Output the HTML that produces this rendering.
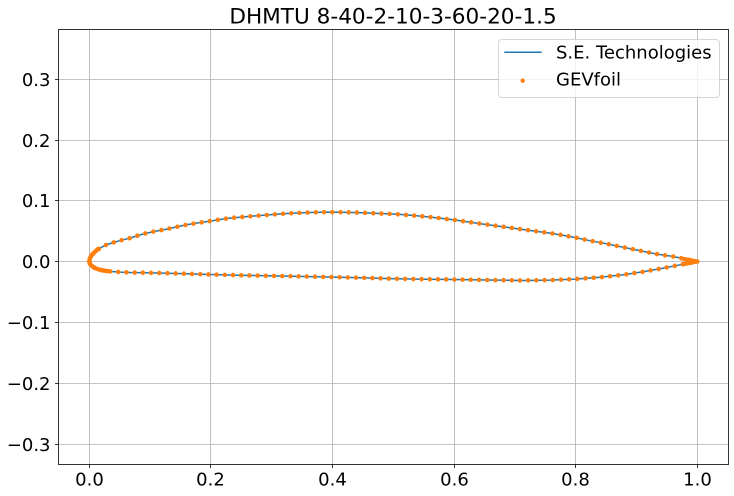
<!DOCTYPE html>
<html><head><meta charset="utf-8"><style>
html,body{margin:0;padding:0;background:#fff;}
svg{display:block;}
text{font-family:"DejaVu Sans","Liberation Sans",sans-serif;fill:#000;}
</style></head><body>
<svg width="734" height="496" viewBox="0 0 734 496" xmlns="http://www.w3.org/2000/svg">
<rect width="734" height="496" fill="#fff"/>
<text x="393" y="23.3" font-size="21.6" text-anchor="middle">DHMTU 8-40-2-10-3-60-20-1.5</text>
<g stroke="#b0b0b0" stroke-width="0.8" fill="none">
<line x1="89.5" y1="29.5" x2="89.5" y2="464.5"/>
<line x1="210.5" y1="29.5" x2="210.5" y2="464.5"/>
<line x1="332.5" y1="29.5" x2="332.5" y2="464.5"/>
<line x1="454.5" y1="29.5" x2="454.5" y2="464.5"/>
<line x1="575.5" y1="29.5" x2="575.5" y2="464.5"/>
<line x1="697.5" y1="29.5" x2="697.5" y2="464.5"/>
<line x1="58.5" y1="79.5" x2="728.5" y2="79.5"/>
<line x1="58.5" y1="140.5" x2="728.5" y2="140.5"/>
<line x1="58.5" y1="200.5" x2="728.5" y2="200.5"/>
<line x1="58.5" y1="261.5" x2="728.5" y2="261.5"/>
<line x1="58.5" y1="322.5" x2="728.5" y2="322.5"/>
<line x1="58.5" y1="383.5" x2="728.5" y2="383.5"/>
<line x1="58.5" y1="444.5" x2="728.5" y2="444.5"/>
</g>
<!-- airfoil line -->
<path fill="none" stroke="#1f77b4" stroke-width="1.5" stroke-linejoin="round" d="M697.3,261.5 L685,259 673.3,256.5 658,254.3 643.3,251.4 625,247.6 606.7,243.8 590,240.7 575,237.5 562,235.1 550,233.1 535,231.1 520,229.1 502,226.6 483.3,224.1 468,221.9 453.3,219.8 435,217.6 416.7,215.8 398,214.3 380,213.5 366,212.9 353.3,212.5 340,212.2 326.7,212.1 310,212.5 293.3,213.1 276,214.3 260,215.5 245,216.7 230,218.1 220,219.5 210,221.1 198,222.9 186.7,224.8 176,227 166.7,229.1 156,231.1 146.7,233.1 138,235.5 130,238.1 121,240.3 113.3,242.5 106,245 100,248.1 95.4,251.4 92.3,254.4 90.8,256.5 89.6,259.3 89.4,261.5 89.7,263.6 90.8,264.9 92.3,266.3 95.4,268.3 100,269.8 105,270.8 110,271.4 120,272.1 130,272.5 147,272.8 163.3,273.1 186,273.8 210,274.5 238,275.2 266.7,275.8 300,276.4 333.3,277.1 365,277.9 396.7,278.8 425,279.2 453.3,279.5 488,280 523.3,280.5 550,280.1 575,279.1 600,277.3 623.3,274.8 643,271.8 663.3,268.1 680,264.8 697.3,261.5"/>
<!-- orange dots -->
<path fill="none" stroke="#ff7f0e" stroke-width="4.6" stroke-linecap="round" stroke-dasharray="0 8.2" d="M697.3,261.5 L685,259 673.3,256.5 658,254.3 643.3,251.4 625,247.6 606.7,243.8 590,240.7 575,237.5 562,235.1 550,233.1 535,231.1 520,229.1 502,226.6 483.3,224.1 468,221.9 453.3,219.8 435,217.6 416.7,215.8 398,214.3 380,213.5 366,212.9 353.3,212.5 340,212.2 326.7,212.1 310,212.5 293.3,213.1 276,214.3 260,215.5 245,216.7 230,218.1 220,219.5 210,221.1 198,222.9 186.7,224.8 176,227 166.7,229.1 156,231.1 146.7,233.1 138,235.5 130,238.1 121,240.3 113.3,242.5 106,245 100,248.1 95.4,251.4 92.3,254.4 90.8,256.5 89.6,259.3 89.4,261.5 89.7,263.6 90.8,264.9 92.3,266.3 95.4,268.3 100,269.8 105,270.8 110,271.4 120,272.1 130,272.5 147,272.8 163.3,273.1 186,273.8 210,274.5 238,275.2 266.7,275.8 300,276.4 333.3,277.1 365,277.9 396.7,278.8 425,279.2 453.3,279.5 488,280 523.3,280.5 550,280.1 575,279.1 600,277.3 623.3,274.8 643,271.8 663.3,268.1 680,264.8 697.3,261.5"/>
<path fill="none" stroke="#ff7f0e" stroke-width="4.4" stroke-linecap="round" stroke-linejoin="round" d="M98,249 L95.4,251.4 92.3,254.4 90.8,256.5 89.6,259.3 89.4,261.5 89.7,263.6 90.8,264.9 92.3,266.3 95.4,268.3 100,269.8 105,270.8 108,271.2"/>
<path fill="none" stroke="#ff7f0e" stroke-width="4.2" stroke-linecap="round" stroke-linejoin="round" d="M684,258.9 L697.3,261.5 684,264.1"/>
<!-- spines -->
<rect x="58.5" y="29.5" width="670" height="435" fill="none" stroke="#000" stroke-width="0.8"/>
<g stroke="#000" stroke-width="0.8">
<line x1="89.5" y1="464.5" x2="89.5" y2="468"/>
<line x1="210.5" y1="464.5" x2="210.5" y2="468"/>
<line x1="332.5" y1="464.5" x2="332.5" y2="468"/>
<line x1="454.5" y1="464.5" x2="454.5" y2="468"/>
<line x1="575.5" y1="464.5" x2="575.5" y2="468"/>
<line x1="697.5" y1="464.5" x2="697.5" y2="468"/>
<line x1="55" y1="79.5" x2="58.5" y2="79.5"/>
<line x1="55" y1="140.5" x2="58.5" y2="140.5"/>
<line x1="55" y1="200.5" x2="58.5" y2="200.5"/>
<line x1="55" y1="261.5" x2="58.5" y2="261.5"/>
<line x1="55" y1="322.5" x2="58.5" y2="322.5"/>
<line x1="55" y1="383.5" x2="58.5" y2="383.5"/>
<line x1="55" y1="444.5" x2="58.5" y2="444.5"/>
</g>
<g font-size="18" text-anchor="middle">
<text x="89.5" y="485.5">0.0</text>
<text x="210.5" y="485.5">0.2</text>
<text x="332.5" y="485.5">0.4</text>
<text x="454.5" y="485.5">0.6</text>
<text x="575.5" y="485.5">0.8</text>
<text x="697.5" y="485.5">1.0</text>
</g>
<g font-size="18" text-anchor="end">
<text x="50.5" y="85.8">0.3</text>
<text x="50.5" y="146.8">0.2</text>
<text x="50.5" y="206.8">0.1</text>
<text x="50.5" y="267.8">0.0</text>
<text x="50.5" y="328.8">−0.1</text>
<text x="50.5" y="389.8">−0.2</text>
<text x="50.5" y="450.8">−0.3</text>
</g>
<!-- legend -->
<rect x="498.5" y="39.5" width="221" height="58" rx="3.5" ry="3.5" fill="#fff" fill-opacity="0.8" stroke="#cccccc" stroke-opacity="0.8" stroke-width="1"/>
<line x1="504.3" y1="52.3" x2="541.7" y2="52.3" stroke="#1f77b4" stroke-width="1.5"/>
<circle cx="522.7" cy="80.7" r="2.2" fill="#ff7f0e"/>
<g font-size="18">
<text x="556" y="58.3">S.E. Technologies</text>
<text x="556" y="85.3">GEVfoil</text>
</g>
</svg>
</body></html>
